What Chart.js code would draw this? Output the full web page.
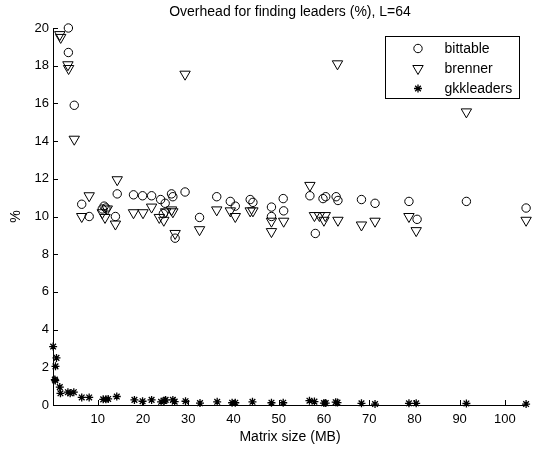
<!DOCTYPE html>
<html>
<head>
<meta charset="utf-8">
<script src="https://cdn.jsdelivr.net/npm/chart.js@4.4.1/dist/chart.umd.min.js"></script>
<style>
  html, body { margin: 0; padding: 0; background: #fff; }
  #wrap { width: 534px; height: 450px; }
</style>
</head>
<body>
<div id="wrap"><canvas id="c" width="534" height="450"></canvas></div>
<script>
// ---- data ----
const chartTitle = "Overhead for finding leaders (%), L=64";
const xAxisTitle = "Matrix size (MB)";
const yAxisTitle = "%";
const seriesNames = ["bittable", "brenner", "gkkleaders"];

const bittableX = [3.5, 3.5, 4.8, 6.45, 8.1, 11.0, 11.4, 11.8, 13.9, 14.3, 17.9, 19.9, 21.9, 23.9, 24.5, 24.9, 26.3, 26.6, 27.1, 29.3, 32.5, 36.3, 39.3, 40.4, 43.7, 44.3, 48.4, 48.4, 51.0, 51.1, 56.9, 58.1, 59.8, 60.4, 62.7, 63.1, 68.3, 71.3, 78.8, 80.6, 91.5, 104.7];
const bittableY = [20.0, 18.7, 15.9, 10.65, 10.0, 10.4, 10.55, 10.45, 10.0, 11.2, 11.15, 11.1, 11.1, 10.9, 10.15, 10.7, 11.2, 11.05, 8.85, 11.3, 9.95, 11.05, 10.8, 10.55, 10.9, 10.75, 10.5, 10.0, 10.95, 10.3, 11.1, 9.1, 10.95, 11.05, 11.05, 10.85, 10.9, 10.7, 10.8, 9.85, 10.8, 10.45];

const brennerX = [1.6, 1.8, 3.4, 3.55, 4.8, 6.45, 8.1, 11.0, 11.6, 12.1, 13.9, 14.3, 17.9, 20.0, 21.9, 23.6, 24.6, 25.0, 26.3, 26.6, 27.1, 29.3, 32.5, 36.3, 39.3, 40.4, 43.7, 44.3, 48.4, 48.4, 51.1, 56.9, 57.9, 59.0, 60.0, 60.3, 63.0, 63.1, 68.3, 71.3, 78.8, 80.4, 91.5, 104.7];
const brennerY = [19.65, 19.5, 18.05, 17.85, 14.1, 10.0, 11.1, 10.2, 9.95, 10.4, 9.6, 11.95, 10.2, 10.2, 10.5, 9.95, 9.8, 10.25, 10.35, 10.25, 9.1, 17.55, 9.3, 10.35, 10.3, 10.0, 10.3, 10.3, 9.75, 9.2, 9.75, 11.65, 10.05, 10.05, 9.8, 10.05, 18.1, 9.8, 9.55, 9.75, 10.0, 9.25, 15.55, 9.8];

const gkkX = [0.13, 0.5, 0.6, 0.65, 0.87, 1.6, 1.75, 3.4, 3.9, 4.7, 6.45, 8.1, 11.2, 11.8, 12.3, 14.2, 18.1, 19.9, 21.9, 24.0, 24.7, 25.0, 26.6, 27.0, 29.4, 32.6, 36.4, 39.7, 40.4, 44.2, 48.4, 51.0, 56.8, 57.9, 60.0, 60.4, 62.6, 63.0, 68.3, 71.3, 78.8, 80.4, 91.5, 104.7];
const gkkY = [3.1, 1.35, 1.3, 2.05, 2.5, 0.95, 0.62, 0.68, 0.62, 0.68, 0.4, 0.4, 0.3, 0.3, 0.32, 0.45, 0.27, 0.2, 0.27, 0.17, 0.22, 0.27, 0.27, 0.18, 0.2, 0.1, 0.17, 0.12, 0.12, 0.17, 0.12, 0.12, 0.23, 0.18, 0.1, 0.1, 0.15, 0.13, 0.09, 0.05, 0.09, 0.09, 0.08, 0.05];

const xMin = 0.1, xMax = 104.9, xStep = 10;
const yMin = 0, yMax = 20, yStep = 2;

// ---- build ----
const toPts = (xs, ys) => xs.map((x, i) => ({ x: x, y: ys[i] }));
const FONT = '"Liberation Sans", Arial, Helvetica, sans-serif';
const CLEAR = 'rgba(0,0,0,0)';

const datasets = [
  { label: seriesNames[0], data: toPts(bittableX, bittableY), pointStyle: 'circle', pointRadius: 4.2, pointRotation: 0, borderWidth: 1 },
  { label: seriesNames[1], data: toPts(brennerX, brennerY), pointStyle: 'triangle', pointRadius: 6, pointRotation: 180, borderWidth: 1 },
  { label: seriesNames[2], data: toPts(gkkX, gkkY), pointStyle: 'star', pointRadius: 4, pointRotation: 0, borderWidth: 1.3 }
].map(d => Object.assign(d, {
  showLine: false,
  borderColor: '#000',
  backgroundColor: CLEAR,
  pointBorderColor: '#000',
  pointBackgroundColor: CLEAR,
  pointBorderWidth: d.borderWidth,
  pointHoverRadius: d.pointRadius,
  clip: false
}));

const inwardTicks = {
  id: 'inwardTicks',
  afterDatasetsDraw(chart) {
    const ctx = chart.ctx, a = chart.chartArea;
    const xs = chart.scales.x, ys = chart.scales.y;
    ctx.save();
    ctx.strokeStyle = '#000';
    ctx.lineWidth = 1;
    ctx.beginPath();
    xs.ticks.forEach(t => {
      const px = Math.round(xs.getPixelForValue(t.value)) + 0.5;
      ctx.moveTo(px, a.bottom); ctx.lineTo(px, a.bottom - 5);
    });
    ys.ticks.forEach(t => {
      const py = Math.round(ys.getPixelForValue(t.value)) + 0.5;
      ctx.moveTo(a.left, py); ctx.lineTo(a.left + 5, py);
    });
    ctx.stroke();
    ctx.restore();
  }
};

const areaTitle = {
  id: 'areaTitle',
  afterDraw(chart) {
    const ctx = chart.ctx, a = chart.chartArea;
    ctx.save();
    ctx.fillStyle = '#000';
    ctx.font = '14px ' + FONT;
    ctx.textAlign = 'center';
    ctx.textBaseline = 'middle';
    ctx.fillText(chartTitle, (a.left + a.right) / 2, 12);
    ctx.restore();
  }
};

const boxLegend = {
  id: 'boxLegend',
  afterDraw(chart) {
    const ctx = chart.ctx, a = chart.chartArea;
    const w = 134, h = 62;
    const left = Math.round(a.right - 8 - w) + 0.5, top = Math.round(a.top + 8) + 0.5;
    ctx.save();
    ctx.fillStyle = '#fff';
    ctx.fillRect(left, top, w, h);
    ctx.strokeStyle = '#000';
    ctx.lineWidth = 1;
    ctx.strokeRect(left, top, w, h);
    ctx.font = '14px ' + FONT;
    ctx.textBaseline = 'middle';
    ctx.textAlign = 'left';
    chart.data.datasets.forEach((d, i) => {
      const cy = top + 12 + i * 20;
      ctx.strokeStyle = '#000';
      ctx.fillStyle = CLEAR;
      ctx.lineWidth = d.pointBorderWidth;
      Chart.helpers.drawPoint(ctx, {
        pointStyle: d.pointStyle, radius: d.pointRadius, rotation: d.pointRotation,
        borderWidth: d.pointBorderWidth
      }, left + 32.5, cy);
      ctx.fillStyle = '#000';
      ctx.fillText(d.label, left + 59, cy + 0.5);
    });
    ctx.restore();
  }
};

new Chart(document.getElementById('c'), {
  type: 'scatter',
  data: { datasets: datasets },
  plugins: [inwardTicks, areaTitle, boxLegend],
  options: {
    responsive: false,
    animation: false,
    devicePixelRatio: 1,
    layout: { padding: { left: 0, right: 0, top: 28, bottom: 0 } },
    plugins: {
      legend: { display: false },
      tooltip: { enabled: false },
      title: { display: false }
    },
    scales: {
      x: {
        type: 'linear',
        min: xMin, max: xMax,
        afterFit(s) { s.height = 45; },
        grid: { display: false, drawTicks: false },
        border: { display: true, color: '#000', width: 1 },
        ticks: {
          stepSize: xStep, includeBounds: false, color: '#000', padding: 7,
          maxRotation: 0, autoSkip: false,
          font: { family: FONT, size: 13 },
          callback: v => (v % 10 === 0 ? String(v) : '')
        },
        title: { display: true, text: xAxisTitle, color: '#000', font: { family: FONT, size: 14 }, padding: { top: 0, bottom: 4 } }
      },
      y: {
        type: 'linear',
        min: yMin, max: yMax,
        afterFit(s) { s.width = 53; },
        grid: { display: false, drawTicks: false },
        border: { display: true, color: '#000', width: 1 },
        ticks: {
          stepSize: yStep, color: '#000', padding: 4,
          font: { family: FONT, size: 13 }
        },
        title: { display: true, text: yAxisTitle, color: '#000', font: { family: FONT, size: 14 }, padding: { top: 8, bottom: 0 } }
      }
    }
  }
});
</script>
</body>
</html>
